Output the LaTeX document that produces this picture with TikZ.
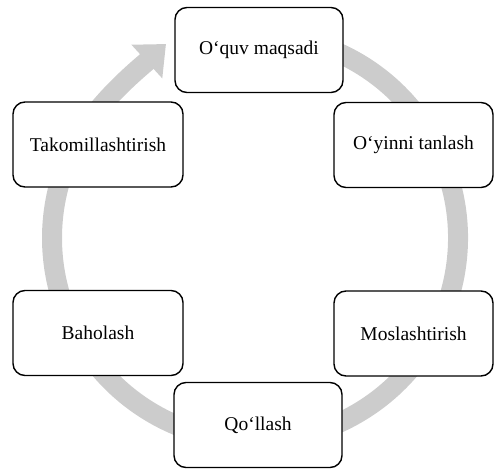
\documentclass[tikz,border=0pt]{standalone}
\usepackage{fontspec}
\setmainfont{Liberation Serif}
\usetikzlibrary{arrows.meta}
\tikzset{
  stage/.style={draw=black, line width=1.4pt, rounded corners=12pt, fill=white,
    minimum height=85pt, inner sep=0pt, align=center, font=\fontsize{19.5}{23}\selectfont},
  ring/.style={draw=black!20, line width=20pt}
}
\begin{document}
\begin{tikzpicture}[x=1pt,y=1pt]
\useasboundingbox (0,0) rectangle (494,469);
\coordinate (c) at (255,231);
\coordinate (tip) at (166,425);
\draw[ring, -{Triangle[length=26pt,width=44pt]}] (c) ++(78:203) arc[start angle=78, end angle=-210, radius=203]
   .. controls +(22,38) and +(-24,-22) .. (tip);
\node[stage, minimum width=168pt] (goal) at (259,419) {O‘quv maqsadi};
\node[stage, minimum width=159pt] (choose) at (413.5,324) {O‘yinni tanlash};
\node[stage, minimum width=159pt] (adapt) at (413.5,135.5) {Moslashtirish};
\node[stage, minimum width=168pt] (apply) at (258,44) {Qo‘llash};
\node[stage, minimum width=170pt] (eval) at (98,136) {Baholash};
\node[stage, minimum width=170pt] (improve) at (98,324.5) {Takomillashtirish};
\end{tikzpicture}
\end{document}
